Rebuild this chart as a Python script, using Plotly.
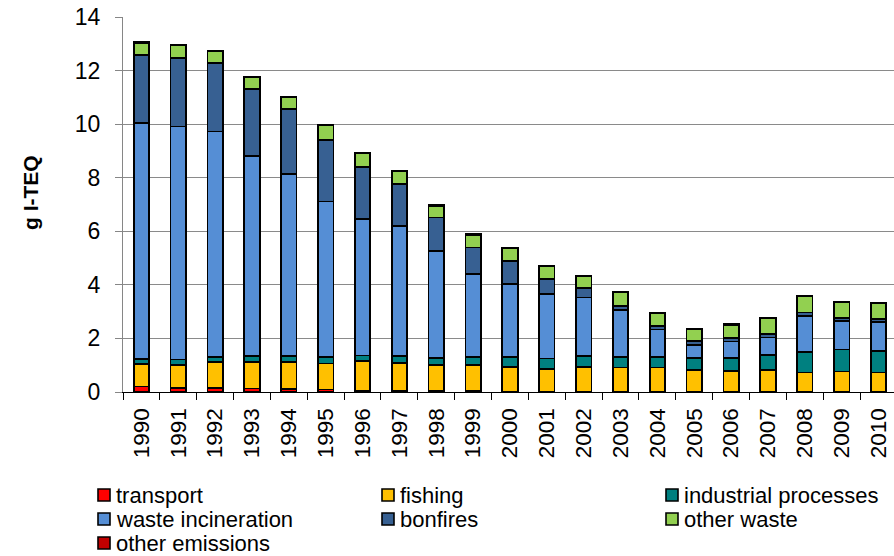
import plotly.graph_objects as go

# Dioxin emissions by source, g I-TEQ per year
years = [str(y) for y in range(1990, 2011)]

transport = [0.20, 0.16, 0.15, 0.13, 0.12, 0.09, 0.06, 0.04, 0.03, 0.03, 0.02,
             0.02, 0.02, 0.02, 0.02, 0.02, 0.02, 0.02, 0.02, 0.02, 0.02]
fishing = [0.85, 0.86, 0.97, 0.99, 1.00, 0.97, 1.09, 1.04, 0.99, 0.99, 0.91,
           0.85, 0.92, 0.89, 0.89, 0.79, 0.77, 0.79, 0.71, 0.75, 0.71]
industrial_processes = [0.19, 0.19, 0.19, 0.23, 0.23, 0.25, 0.21, 0.26, 0.24, 0.29, 0.38,
                        0.38, 0.40, 0.40, 0.40, 0.46, 0.48, 0.56, 0.77, 0.82, 0.79]
waste_incineration = [8.79, 8.70, 8.41, 7.46, 6.79, 5.80, 5.09, 4.85, 4.00, 3.10, 2.72,
                      2.40, 2.19, 1.75, 1.02, 0.49, 0.61, 0.66, 1.34, 1.07, 1.10]
bonfires = [2.55, 2.56, 2.56, 2.50, 2.43, 2.30, 1.94, 1.58, 1.25, 0.99, 0.87,
            0.56, 0.34, 0.14, 0.13, 0.15, 0.14, 0.13, 0.13, 0.11, 0.10]
other_waste = [0.46, 0.48, 0.44, 0.45, 0.44, 0.54, 0.53, 0.48, 0.44, 0.47, 0.48,
               0.48, 0.45, 0.51, 0.47, 0.44, 0.49, 0.59, 0.59, 0.58, 0.60]
other_emissions = [0.02] * 21

series_names = ["transport", "fishing", "industrial processes", "waste incineration",
                "bonfires", "other waste", "other emissions"]
series_values = [transport, fishing, industrial_processes, waste_incineration,
                 bonfires, other_waste, other_emissions]
series_colors = ["#FF0000", "#FFC000", "#008080", "#558ED5",
                 "#376092", "#92D050", "#C00000"]

y_ticks = [0, 2, 4, 6, 8, 10, 12, 14]

FONT = "Liberation Sans, Arial, sans-serif"

# plot-area geometry in pixels (used for the hand-placed legend)
W, H = 894, 556
L, R, T, B = 123, 0, 17, 164
PW, PH = W - L - R, H - T - B

fig = go.Figure()
for name, vals, col in zip(series_names, series_values, series_colors):
    fig.add_trace(go.Bar(
        x=years, y=vals, name=name,
        marker=dict(color=col, line=dict(color="#000000", width=1.7)),
        showlegend=False,
    ))


def px_to_paper(px, py):
    return (px - L) / PW, (H - B - py) / PH


# legend: three columns, three rows
col_x = [104, 388, 672]
row_y = [495, 519, 543]
for i, (name, col) in enumerate(zip(series_names, series_colors)):
    cx = col_x[i % 3]
    cy = row_y[i // 3]
    x0, y0 = px_to_paper(cx - 6, cy + 6)
    x1, y1 = px_to_paper(cx + 6, cy - 6)
    fig.add_shape(type="rect", xref="paper", yref="paper", x0=x0, y0=y0, x1=x1, y1=y1,
                  fillcolor=col, line=dict(color="#000000", width=1.6))
    tx, ty = px_to_paper(cx + 10, cy)
    fig.add_annotation(xref="paper", yref="paper", x=tx, y=ty, text=name,
                       showarrow=False, xanchor="left", yanchor="middle",
                       font=dict(family=FONT, size=22, color="#000000"))

# y-axis title
tx, ty = px_to_paper(30, 193)
fig.add_annotation(xref="paper", yref="paper", x=tx, y=ty, text="<b>g I-TEQ</b>",
                   textangle=-90, showarrow=False, xanchor="center", yanchor="middle",
                   font=dict(family=FONT, size=21, color="#000000"))

fig.update_layout(
    width=W, height=H,
    margin=dict(l=L, r=R, t=T, b=B, pad=0),
    barmode="stack", bargap=0.58,
    plot_bgcolor="#FFFFFF", paper_bgcolor="#FFFFFF",
    font=dict(family=FONT, size=22, color="#000000"),
    showlegend=False,
)
fig.update_xaxes(
    type="category", range=[-0.5, 20.42],
    showline=True, linecolor="#000000", linewidth=1.3,
    ticks="outside", tickson="boundaries", ticklen=7, tickcolor="#000000", tickwidth=1.2,
    tickangle=-90, tickfont=dict(family=FONT, size=22.5, color="#000000"),
    ticklabelstandoff=6,
    showgrid=False,
)
fig.update_yaxes(
    range=[0, 14], tickvals=y_ticks,
    showline=True, linecolor="#868686", linewidth=1.3,
    ticks="outside", ticklen=7, tickcolor="#868686", tickwidth=1.2,
    tickfont=dict(family=FONT, size=23, color="#000000"),
    ticklabelstandoff=10,
    showgrid=True, gridcolor="#8A8A8A", gridwidth=1.1,
    zeroline=False,
)

fig.write_html("out.html")
